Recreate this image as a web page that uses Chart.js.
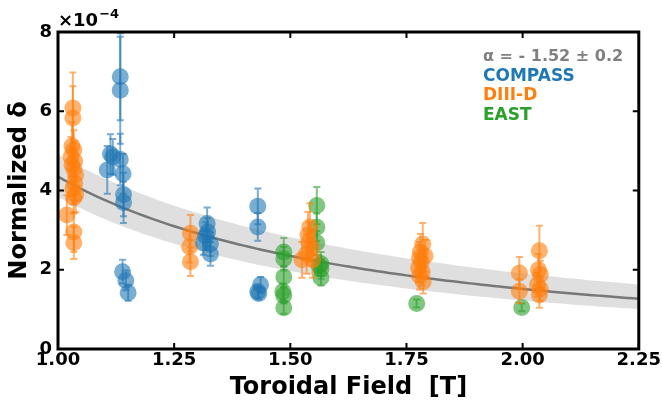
<!DOCTYPE html>
<html>
<head>
<meta charset="utf-8">
<script src="https://cdn.jsdelivr.net/npm/chart.js@4/dist/chart.umd.min.js"></script>
<style>
  html, body { margin: 0; padding: 0; background: #fff; }
  #wrap { width: 662px; height: 403px; position: relative; }
</style>
</head>
<body>
<div id="wrap"><canvas id="chart"></canvas></div>
<script>
// COMPASS shots: field [T], normalized delta (x1e-4), error
const compassB   = [1.134, 1.134, 1.134, 1.140, 1.141, 1.141, 1.113, 1.118, 1.106, 1.139, 1.146, 1.151,
                    1.321, 1.318, 1.313, 1.328, 1.328, 1.322, 1.430, 1.430, 1.432, 1.436, 1.430];
const compassD   = [6.87, 6.53, 4.78, 4.42, 3.90, 3.70, 4.92, 4.85, 4.52, 1.95, 1.73, 1.42,
                    3.17, 2.85, 2.68, 2.65, 2.40, 2.95, 3.60, 3.08, 1.40, 1.62, 1.45];
const compassErr = [1.10, 1.35, 0.65, 0.50, 0.55, 0.52, 0.50, 0.45, 0.60, 0.30, 0.25, 0.20,
                    0.40, 0.35, 0.30, 0.30, 0.30, 0.35, 0.45, 0.35, 0.15, 0.20, 0.15];

// DIII-D shots
const diiidB   = [1.032, 1.032, 1.030, 1.034, 1.028, 1.036, 1.030, 1.034, 1.038, 1.036, 1.032, 1.038, 1.034, 1.019, 1.034, 1.034,
                  1.285, 1.283, 1.285,
                  1.542, 1.538, 1.540, 1.545, 1.535, 1.525, 1.548,
                  1.785, 1.780, 1.778, 1.782, 1.776, 1.784, 1.778, 1.786, 1.790,
                  1.993, 1.993,
                  2.036, 2.034, 2.038, 2.032, 2.038, 2.036];
const diiidD   = [6.08, 5.83, 5.12, 5.02, 4.85, 4.75, 4.65, 4.55, 4.40, 4.18, 4.05, 3.90, 3.82, 3.38, 2.95, 2.68,
                  2.92, 2.58, 2.20,
                  3.08, 2.88, 2.70, 2.55, 2.40, 2.25, 2.25,
                  2.65, 2.45, 2.30, 2.20, 2.05, 1.95, 1.85, 1.70, 2.35,
                  1.92, 1.46,
                  2.48, 2.00, 1.88, 1.62, 1.52, 1.36];
const diiidErr = [0.90, 0.80, 0.60, 0.50, 0.50, 0.50, 0.45, 0.50, 0.50, 0.45, 0.40, 0.45, 0.40, 0.50, 0.50, 0.41,
                  0.46, 0.40, 0.36,
                  0.60, 0.58, 0.50, 0.45, 0.50, 0.45, 0.45,
                  0.53, 0.45, 0.40, 0.40, 0.35, 0.35, 0.35, 0.30, 0.40,
                  0.40, 0.30,
                  0.63, 0.40, 0.35, 0.30, 0.30, 0.32];

// EAST shots
const eastB   = [1.486, 1.486, 1.486, 1.484, 1.486, 1.486,
                 1.557, 1.557, 1.557, 1.566, 1.566, 1.566, 1.562,
                 1.772, 1.998];
const eastD   = [2.45, 2.28, 1.82, 1.45, 1.35, 1.04,
                 3.62, 3.07, 2.68, 2.15, 2.02, 1.80, 2.10,
                 1.15, 1.05];
const eastErr = [0.35, 0.30, 0.25, 0.20, 0.20, 0.15,
                 0.47, 0.35, 0.30, 0.30, 0.25, 0.20, 0.25,
                 0.10, 0.10];

// power-law fit delta = A * B^alpha, with its confidence band
const fitAlpha = -1.52;
const fitAlphaErr = 0.2;
const fitAmp = 4.35;
const bandUpper = [4.90, -1.36];   // [amplitude, exponent]
const bandLower = [3.84, -1.65];

const xTicks = [1.00, 1.25, 1.50, 1.75, 2.00, 2.25];
const yTicks = [0, 2, 4, 6, 8];

const colors = {
  compass: [31, 119, 180],
  diiid: [255, 127, 14],
  east: [44, 160, 44]
};
const rgba = (c, a) => `rgba(${c[0]},${c[1]},${c[2]},${a})`;

const FONT = "'DejaVu Sans', sans-serif";

const fieldGrid = [];
for (let b = 1.0; b <= 2.2501; b += 0.0125) fieldGrid.push(+b.toFixed(4));
const fitLine = fieldGrid.map(b => ({ x: b, y: fitAmp * Math.pow(b, fitAlpha) }));
const bandHi = fieldGrid.map(b => ({ x: b, y: bandUpper[0] * Math.pow(b, bandUpper[1]) }));
const bandLo = fieldGrid.map(b => ({ x: b, y: bandLower[0] * Math.pow(b, bandLower[1]) }));

const toPoints = (bs, ds, es) => bs.map((b, i) => ({ x: b, y: ds[i], err: es[i] }));

function scatterSet(label, col, pts) {
  return {
    label, type: 'scatter', data: pts, order: 1,
    pointRadius: 8.5, pointHoverRadius: 8.5,
    backgroundColor: rgba(col, 0.6), borderWidth: 0,
    errColor: rgba(col, 0.6)
  };
}

// vertical error bars with caps, drawn over each scatter set's markers
const errorBars = {
  id: 'errorBars',
  afterDatasetDraw(chart, args) {
    const ds = chart.data.datasets[args.index];
    if (!ds.errColor) return;
    const { ctx, scales: { x, y } } = chart;
    ctx.save();
    ctx.strokeStyle = ds.errColor;
    ctx.lineWidth = 2;
    ds.data.forEach(p => {
      const px = x.getPixelForValue(p.x);
      const top = y.getPixelForValue(p.y + p.err);
      const bot = y.getPixelForValue(p.y - p.err);
      ctx.beginPath();
      ctx.moveTo(px, top); ctx.lineTo(px, bot);
      ctx.moveTo(px - 3.5, top); ctx.lineTo(px + 3.5, top);
      ctx.moveTo(px - 3.5, bot); ctx.lineTo(px + 3.5, bot);
      ctx.stroke();
    });
    ctx.restore();
  }
};

// frame, inward ticks, offset text and the text legend
const frame = {
  id: 'frame',
  afterDraw(chart) {
    const { ctx, chartArea: a, scales: { x, y } } = chart;
    ctx.save();
    ctx.strokeStyle = '#000';
    ctx.lineWidth = 2;
    xTicks.forEach(v => {
      const px = x.getPixelForValue(v);
      ctx.beginPath();
      ctx.moveTo(px, a.bottom); ctx.lineTo(px, a.bottom - 6);
      ctx.moveTo(px, a.top); ctx.lineTo(px, a.top + 6);
      ctx.stroke();
    });
    yTicks.forEach(v => {
      const py = y.getPixelForValue(v);
      ctx.beginPath();
      ctx.moveTo(a.left, py); ctx.lineTo(a.left + 6, py);
      ctx.moveTo(a.right, py); ctx.lineTo(a.right - 6, py);
      ctx.stroke();
    });
    ctx.lineWidth = 3;
    ctx.strokeRect(a.left, a.top, a.right - a.left, a.bottom - a.top);

    // axis multiplier
    ctx.fillStyle = '#000';
    ctx.textBaseline = 'alphabetic';
    ctx.textAlign = 'left';
    ctx.font = `bold 18px ${FONT}`;
    ctx.fillText('\u00d710', a.left, a.top - 6);
    const w = ctx.measureText('\u00d710').width;
    ctx.font = `bold 13px ${FONT}`;
    ctx.fillText('\u22124', a.left + w + 1, a.top - 14);

    // legend text
    const lx = 483;
    const rows = [
      [`\u03b1 = - ${Math.abs(fitAlpha).toFixed(2)} \u00b1 ${fitAlphaErr}`, '#808080', 16],
      ['COMPASS', rgba(colors.compass, 1), 17],
      ['DIII-D', rgba(colors.diiid, 1), 17],
      ['EAST', rgba(colors.east, 1), 17]
    ];
    rows.forEach((r, i) => {
      ctx.font = `bold ${r[2]}px ${FONT}`;
      ctx.fillStyle = r[1];
      ctx.fillText(r[0], lx, 61 + i * 19.5);
    });
    ctx.restore();
  }
};

new Chart(document.getElementById('chart'), {
  type: 'scatter',
  data: {
    datasets: [
      scatterSet('COMPASS', colors.compass, toPoints(compassB, compassD, compassErr)),
      scatterSet('DIII-D', colors.diiid, toPoints(diiidB, diiidD, diiidErr)),
      scatterSet('EAST', colors.east, toPoints(eastB, eastD, eastErr)),
      { label: 'fit', type: 'line', data: fitLine, order: 2, borderColor: '#777777', borderWidth: 2.5,
        pointRadius: 0, fill: false, tension: 0 },
      { label: 'bandHi', type: 'line', data: bandHi, order: 3, borderWidth: 0, pointRadius: 0,
        backgroundColor: 'rgba(150,150,150,0.3)', fill: '+1', tension: 0 },
      { label: 'bandLo', type: 'line', data: bandLo, order: 3, borderWidth: 0, pointRadius: 0,
        fill: false, tension: 0 }
    ]
  },
  options: {
    responsive: true,
    maintainAspectRatio: false,
    animation: false,
    events: [],
    layout: { padding: { top: 32, right: 20, left: 0, bottom: 0 } },
    plugins: { legend: { display: false }, tooltip: { enabled: false } },
    scales: {
      x: {
        type: 'linear', min: 1.0, max: 2.25,
        afterBuildTicks: s => { s.ticks = xTicks.map(v => ({ value: v })); },
        afterFit: s => { s.height = 54; },
        ticks: { color: '#000', padding: 1, maxRotation: 0, font: { family: FONT, size: 18, weight: 'bold' },
                 callback: v => v.toFixed(2) },
        grid: { display: false, drawTicks: false },
        border: { display: false },
        title: { display: true, text: 'Toroidal Field  [T]', color: '#000',
                 font: { family: FONT, size: 24, weight: 'bold' }, padding: { top: 0, bottom: 1 } }
      },
      y: {
        type: 'linear', min: 0, max: 8,
        afterBuildTicks: s => { s.ticks = yTicks.map(v => ({ value: v })); },
        afterFit: s => { s.width = 58; },
        ticks: { color: '#000', padding: 6, font: { family: FONT, size: 18, weight: 'bold' },
                 callback: v => String(v) },
        grid: { display: false, drawTicks: false },
        border: { display: false },
        title: { display: true, text: 'Normalized \u03b4', color: '#000',
                 font: { family: FONT, size: 24, weight: 'bold' }, padding: { top: 5, bottom: 0 } }
      }
    }
  },
  plugins: [errorBars, frame]
});
</script>
</body>
</html>
